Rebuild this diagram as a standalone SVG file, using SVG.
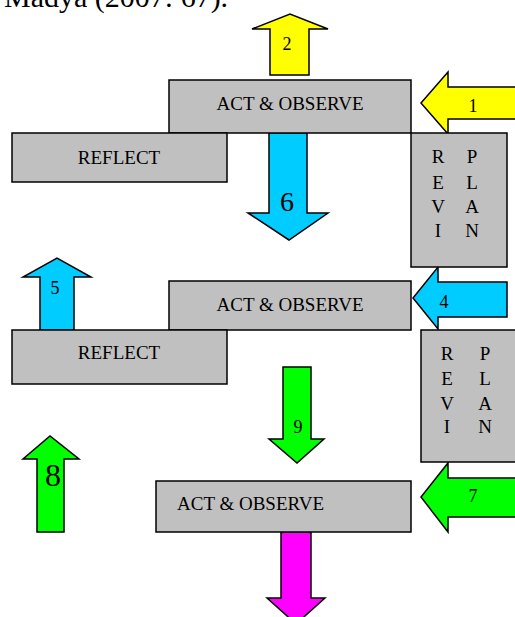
<svg xmlns="http://www.w3.org/2000/svg" width="515" height="617" viewBox="0 0 515 617">
<style>
.box{fill:#C0C0C0;stroke:#000;stroke-width:1.5}
.arr{stroke:#000;stroke-width:1.5;stroke-linejoin:miter}
.y{fill:#FFFF00}.b{fill:#00CCFF}.g{fill:#00FF00}.m{fill:#FF00FF}
text{font-family:"Liberation Serif","Times New Roman",serif;fill:#000}
.lbl{font-size:19px}
.n{font-size:18px;text-anchor:middle}
.big{font-size:28px;text-anchor:middle}
.big8{font-size:32px;text-anchor:middle}
.c{text-anchor:middle}
</style>
<rect width="515" height="617" fill="#fff"/>
<text x="4" y="7" font-size="30">Madya (2007: 67).</text>
<g id="connectors">
  <g id="arrow2"><path class="arr y" d="M270,75 V29 H252 L290,14 L328,29 H309 V75 Z"/><text class="n" x="287" y="50">2</text></g>
  <g id="arrow1"><path class="arr y" d="M516,87 H448 V72 L421,103 L448,134 V119 H516 Z"/><text class="n" x="473" y="112">1</text></g>
  <g id="arrow6"><path class="arr b" d="M269,133 V213 H248 L289,240 L328,213 H307 V133 Z"/><text class="big" x="287" y="211">6</text></g>
  <g id="arrow5"><path class="arr b" d="M40,330 V277 H23 L57,258 L91,277 H74 V330 Z"/><text class="n" x="55" y="294">5</text></g>
  <g id="arrow4"><path class="arr b" d="M507,282 H438 V267 L413,298 L438,329 V317 H507 Z"/><text class="n" x="444" y="308">4</text></g>
  <g id="arrow9"><path class="arr g" d="M283,367 V439 H269 L297,463 L324,439 H311 V367 Z"/><text class="n" x="298" y="433">9</text></g>
  <g id="arrow8"><path class="arr g" d="M37,532 V459 H23 L50,436 L79,459 H64 V532 Z"/><text class="big8" x="53" y="486">8</text></g>
  <g id="arrow7"><path class="arr g" d="M516,478 H448 V463 L421,497 L448,532 V517 H516 Z"/><text class="n" x="473" y="502">7</text></g>
  <g id="arrowM"><path class="arr m" d="M281,532 V598 H267 L296,624 L325,598 H311 V532 Z"/></g>
</g>
<g id="act1"><rect class="box" x="169" y="80" width="242" height="53"/><text class="lbl c" x="290" y="110">ACT &amp; OBSERVE</text></g>
<g id="reflect1"><rect class="box" x="12" y="133" width="215" height="49"/><text class="lbl c" x="119" y="164">REFLECT</text></g>
<g id="revplan1"><rect class="box" x="411" y="133" width="96" height="134"/>
  <g class="lbl c"><text x="438" y="163">R</text><text x="438" y="189">E</text><text x="438" y="213">V</text><text x="438" y="237">I</text>
  <text x="472" y="163">P</text><text x="472" y="189">L</text><text x="472" y="213">A</text><text x="472" y="237">N</text></g></g>
<g id="act2"><rect class="box" x="169" y="281" width="242" height="49"/><text class="lbl c" x="290" y="311">ACT &amp; OBSERVE</text></g>
<g id="reflect2"><rect class="box" x="12" y="330" width="215" height="54"/><text class="lbl c" x="119" y="359">REFLECT</text></g>
<g id="revplan2"><rect class="box" x="421" y="330" width="96" height="132"/>
  <g class="lbl c"><text x="447" y="360">R</text><text x="447" y="385">E</text><text x="447" y="410">V</text><text x="447" y="433">I</text>
  <text x="485" y="360">P</text><text x="485" y="385">L</text><text x="485" y="410">A</text><text x="485" y="433">N</text></g></g>
<g id="act3"><rect class="box" x="156" y="481" width="255" height="51"/><text class="lbl" x="177" y="510">ACT &amp; OBSERVE</text></g>
</svg>
